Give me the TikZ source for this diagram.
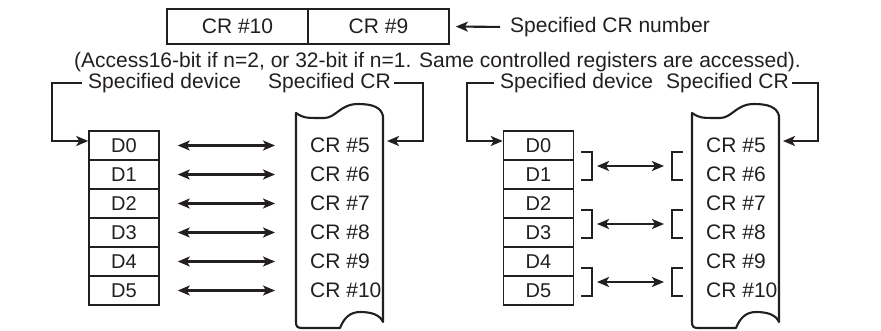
\documentclass[tikz,border=0pt]{standalone}
\usepackage{fontspec}
\setmainfont{Liberation Sans}
\usetikzlibrary{arrows.meta}
\definecolor{ink}{HTML}{231F20}
\begin{document}
\begin{tikzpicture}[x=1pt,y=-1pt, font=\fontsize{21}{25}\selectfont, color=ink,
  topbox/.style={draw=ink, line width=1.7pt, minimum width=141pt, minimum height=35pt, inner sep=0pt},
  dbox/.style={draw=ink, line width=1.5pt, minimum width=70pt, minimum height=29pt, inner sep=0pt, font=\fontsize{20}{24}\selectfont},
  lbl/.style={anchor=west, inner sep=0pt},
  crtxt/.style={anchor=west, inner sep=0pt},
  tip/.style={-{Stealth[length=12pt,width=10pt,inset=3pt]}, line width=2.1pt},
  dtip/.style={{Stealth[length=12pt,width=10pt,inset=3pt]}-{Stealth[length=12pt,width=10pt,inset=3pt]}, line width=2.1pt},
  scrollline/.style={line width=2.1pt, line join=round, line cap=round},
  brk/.style={line width=2.2pt},
  scrollpic/.pic={
    \draw[scrollline] (0,113) .. controls (8,118) .. (28,118)
      .. controls (40,118) and (44,104) .. (62,104)
      .. controls (76,104) and (85,107) .. (87,116) -- (87,322)
      .. controls (84,315) and (76,312) .. (64,312)
      .. controls (54,312) and (48,318) .. (44,328) -- (6,328)
      .. controls (1,328) and (0,326) .. (0,322) -- cycle;
  }
]
\useasboundingbox (0,0) rectangle (881,330);

% top register pair
\node[topbox] (cr10) at (237.5,26.5) {CR \#10};
\node[topbox] (cr9) at (378.5,26.5) {CR \#9};
\node[lbl] (spec) at (510,27) {Specified CR number};
\draw[tip, shorten <=10pt, shorten >=6pt] (spec.west) -- (cr9.east);
\node (note) at (437.5,62) {(Access16-bit if n=2, or 32-bit if n=1. Same controlled registers are accessed).};

% ---------- left group ----------
\foreach \i in {0,...,5} \node[dbox] (dL\i) at (124,145.5+29*\i) {D\i};
\foreach \i/\n in {0/5,1/6,2/7,3/8,4/9,5/10} \node[crtxt] (cL\i) at (310,145.5+29*\i) {CR \#\n};
\foreach \i in {0,...,5} \draw[dtip, shorten <=18pt, shorten >=35pt] (dL\i.east) -- (cL\i.west);
\pic at (296,0) {scrollpic};
\node[lbl] (devL) at (88,83) {Specified device};
\node[lbl] (crL) at (268,83) {Specified CR};
\coordinate (kL) at (52,141);
\draw[tip, shorten <=6pt] (devL.west) -| (kL) -- (kL -| dL0.west);
\coordinate (kLr) at (423,141);
\coordinate (sL) at (387,141);
\draw[tip, shorten <=3pt] (crL.east) -| (kLr) -- (sL);

% ---------- right group ----------
\foreach \i in {0,...,5} \node[dbox] (dR\i) at (538.5,145.5+29*\i) {D\i};
\foreach \i/\n in {0/5,1/6,2/7,3/8,4/9,5/10} \node[crtxt] (cR\i) at (706,145.5+29*\i) {CR \#\n};
\pic at (692,0) {scrollpic};
\node[lbl] (devR) at (500,83) {Specified device};
\node[lbl] (crR) at (666,83) {Specified CR};
\coordinate (kR) at (467,141);
\draw[tip, shorten <=6pt] (devR.west) -| (kR) -- (kR -| dR0.west);
\coordinate (kRr) at (818,141);
\coordinate (sR) at (783,141);
\draw[tip, shorten <=3pt] (crR.east) -| (kRr) -- (sR);

\foreach \j in {0,1,2} {
  \pgfmathsetmacro\c{166+58*\j}
  \draw[brk] (581,\c-14) -- (592,\c-14) -- (592,\c+14) -- (581,\c+14);
  \draw[brk] (683,\c-14) -- (672,\c-14) -- (672,\c+14) -- (683,\c+14);
  \coordinate (bA\j) at (592,\c);
  \coordinate (bB\j) at (672,\c);
  \draw[dtip, shorten <=5pt, shorten >=8pt] (bA\j) -- (bB\j);
}
\end{tikzpicture}
\end{document}
